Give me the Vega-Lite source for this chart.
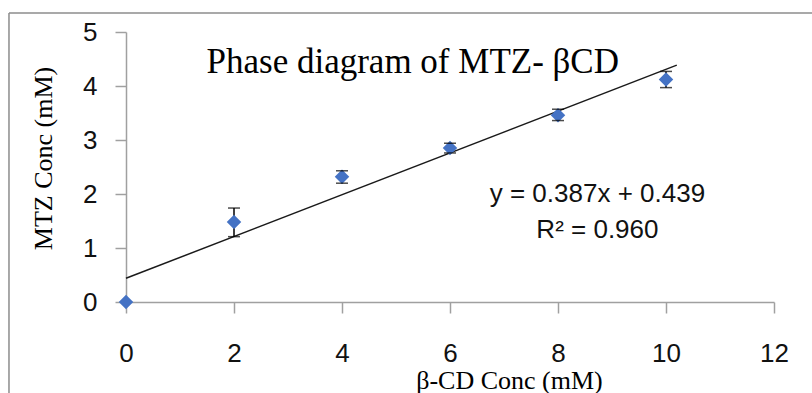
{
  "$schema": "https://vega.github.io/schema/vega-lite/v6.json",
  "width": 648,
  "height": 270,
  "autosize": "none",
  "padding": {"left": 126, "top": 32, "right": 38, "bottom": 91},
  "background": "white",
  "config": {
    "view": {"stroke": null},
    "axis": {
      "grid": false,
      "domainColor": "#a0a0a0", "domainWidth": 1.5,
      "tickColor": "#a0a0a0", "tickWidth": 1.5, "tickSize": 11,
      "labelFont": "Liberation Sans", "labelFontSize": 26, "labelColor": "#111111",
      "labelFlush": false,
      "titleFont": "Liberation Serif", "titleFontSize": 26, "titleFontWeight": "normal", "titleColor": "#000000"
    },
    "axisX": {
      "tickCount": 6, "labelPadding": 27,
      "titleX": 383, "titleY": 86, "titleBaseline": "alphabetic", "titleAlign": "center"
    },
    "axisY": {
      "tickCount": 5, "labelPadding": 18,
      "titleX": -83, "titleY": 126, "titleBaseline": "middle", "titleAlign": "center", "titleAngle": -90
    }
  },
  "datasets": {
    "pts": [
      {"x": 0, "y": 0, "lo": 0, "hi": 0},
      {"x": 2, "y": 1.48, "lo": 1.21, "hi": 1.74},
      {"x": 4, "y": 2.32, "lo": 2.2, "hi": 2.43},
      {"x": 6, "y": 2.85, "lo": 2.76, "hi": 2.94},
      {"x": 8, "y": 3.46, "lo": 3.36, "hi": 3.57},
      {"x": 10, "y": 4.12, "lo": 3.97, "hi": 4.27}
    ],
    "trend": [
      {"x": 0, "y": 0.439},
      {"x": 10.2, "y": 4.386}
    ],
    "labels": [
      {"x": 5.31, "y": 4.24, "t": "Phase diagram of MTZ- βCD", "kind": "title"},
      {"x": 8.73, "y": 1.85, "t": "y = 0.387x + 0.439", "kind": "eq"},
      {"x": 8.73, "y": 1.185, "t": "R² = 0.960", "kind": "eq"}
    ],
    "frameV": [{"x": -2.167, "y": 5.352, "y2": -1.9}],
    "frameH": [{"x": -2.167, "x2": 12.9, "y": 5.352}]
  },
  "layer": [
    {
      "data": {"name": "frameV"},
      "mark": {"type": "rule", "color": "#8c8c8c", "strokeWidth": 1.5},
      "encoding": {
        "x": {"field": "x", "type": "quantitative", "title": "β-CD Conc (mM)", "scale": {"domain": [0, 12], "nice": false, "zero": false}},
        "y": {"field": "y", "type": "quantitative", "title": "MTZ Conc (mM)", "scale": {"domain": [0, 5], "nice": false, "zero": false}},
        "y2": {"field": "y2"}
      }
    },
    {
      "data": {"name": "frameH"},
      "mark": {"type": "rule", "color": "#8c8c8c", "strokeWidth": 1.5},
      "encoding": {
        "x": {"field": "x", "type": "quantitative", "title": "β-CD Conc (mM)", "scale": {"domain": [0, 12], "nice": false, "zero": false}},
        "x2": {"field": "x2"},
        "y": {"field": "y", "type": "quantitative", "title": "MTZ Conc (mM)", "scale": {"domain": [0, 5], "nice": false, "zero": false}}
      }
    },
    {
      "data": {"name": "trend"},
      "mark": {"type": "line", "color": "#1a1a1a", "strokeWidth": 1.5},
      "encoding": {
        "x": {"field": "x", "type": "quantitative", "title": "β-CD Conc (mM)", "scale": {"domain": [0, 12], "nice": false, "zero": false}},
        "y": {"field": "y", "type": "quantitative", "title": "MTZ Conc (mM)", "scale": {"domain": [0, 5], "nice": false, "zero": false}}
      }
    },
    {
      "data": {"name": "pts"},
      "transform": [{"filter": "datum.hi > datum.lo"}],
      "mark": {"type": "rule", "color": "#000000", "strokeWidth": 1.5},
      "encoding": {
        "x": {"field": "x", "type": "quantitative", "title": "β-CD Conc (mM)", "scale": {"domain": [0, 12], "nice": false, "zero": false}},
        "y": {"field": "lo", "type": "quantitative", "title": "MTZ Conc (mM)", "scale": {"domain": [0, 5], "nice": false, "zero": false}},
        "y2": {"field": "hi"}
      }
    },
    {
      "data": {"name": "pts"},
      "mark": {"type": "point", "shape": "diamond", "filled": true, "color": "#4472C4", "opacity": 1, "size": 210},
      "encoding": {
        "x": {"field": "x", "type": "quantitative", "title": "β-CD Conc (mM)", "scale": {"domain": [0, 12], "nice": false, "zero": false}},
        "y": {"field": "y", "type": "quantitative", "title": "MTZ Conc (mM)", "scale": {"domain": [0, 5], "nice": false, "zero": false}}
      }
    },
    {
      "data": {"name": "pts"},
      "transform": [{"filter": "datum.hi > datum.lo"}],
      "mark": {"type": "tick", "orient": "horizontal", "color": "#000000", "size": 12, "thickness": 1.5},
      "encoding": {
        "x": {"field": "x", "type": "quantitative", "title": "β-CD Conc (mM)", "scale": {"domain": [0, 12], "nice": false, "zero": false}},
        "y": {"field": "lo", "type": "quantitative", "title": "MTZ Conc (mM)", "scale": {"domain": [0, 5], "nice": false, "zero": false}}
      }
    },
    {
      "data": {"name": "pts"},
      "transform": [{"filter": "datum.hi > datum.lo"}],
      "mark": {"type": "tick", "orient": "horizontal", "color": "#000000", "size": 12, "thickness": 1.5},
      "encoding": {
        "x": {"field": "x", "type": "quantitative", "title": "β-CD Conc (mM)", "scale": {"domain": [0, 12], "nice": false, "zero": false}},
        "y": {"field": "hi", "type": "quantitative", "title": "MTZ Conc (mM)", "scale": {"domain": [0, 5], "nice": false, "zero": false}}
      }
    },
    {
      "data": {"name": "labels"},
      "transform": [{"filter": "datum.kind === 'title'"}],
      "mark": {"type": "text", "font": "Liberation Serif", "fontSize": 35, "align": "center", "baseline": "alphabetic", "color": "#000000"},
      "encoding": {
        "x": {"field": "x", "type": "quantitative", "title": "β-CD Conc (mM)", "scale": {"domain": [0, 12], "nice": false, "zero": false}},
        "y": {"field": "y", "type": "quantitative", "title": "MTZ Conc (mM)", "scale": {"domain": [0, 5], "nice": false, "zero": false}},
        "text": {"field": "t"}
      }
    },
    {
      "data": {"name": "labels"},
      "transform": [{"filter": "datum.kind === 'eq'"}],
      "mark": {"type": "text", "font": "Liberation Sans", "fontSize": 26, "align": "center", "baseline": "alphabetic", "color": "#111111"},
      "encoding": {
        "x": {"field": "x", "type": "quantitative", "title": "β-CD Conc (mM)", "scale": {"domain": [0, 12], "nice": false, "zero": false}},
        "y": {"field": "y", "type": "quantitative", "title": "MTZ Conc (mM)", "scale": {"domain": [0, 5], "nice": false, "zero": false}},
        "text": {"field": "t"}
      }
    }
  ]
}
